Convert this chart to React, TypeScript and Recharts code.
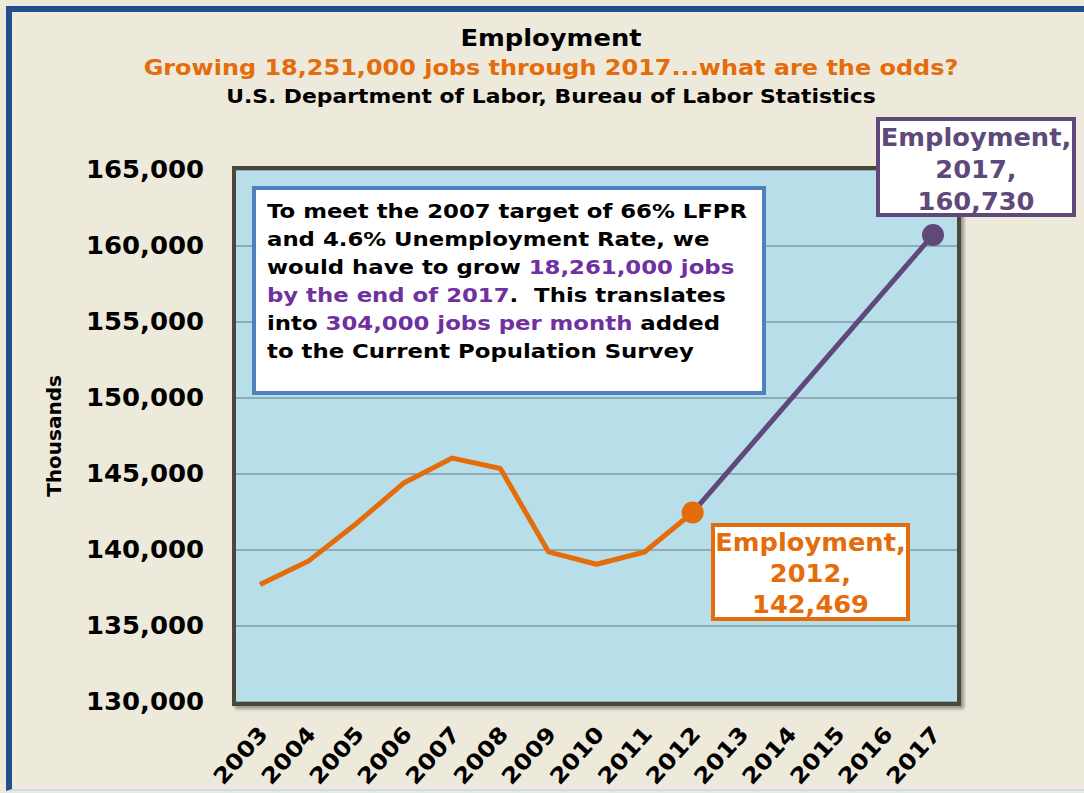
import { LineChart, Line, XAxis, YAxis, CartesianGrid } from 'recharts';

const years = ['2003', '2004', '2005', '2006', '2007', '2008', '2009', '2010', '2011', '2012', '2013', '2014', '2015', '2016', '2017'];
// Thousands, CPS employment (actual through 2012)
const actual = [137736, 139252, 141730, 144427, 146047, 145362, 139877, 139064, 139869, 142469, null, null, null, null, null];
// target path: 2012 level straight to 2017 goal
const target = [null, null, null, null, null, null, null, null, null, 142469, null, null, null, null, 160730];
const yTicks = [130000, 135000, 140000, 145000, 150000, 155000, 160000, 165000];

const W = 1084;
const H = 793;
const PLOT = { left: 236, top: 170, right: 957, bottom: 702 };
const Y_AXIS_W = 100;
const X_AXIS_H = 60;

const FONT = '"DejaVu Sans", Verdana, sans-serif';
const ORANGE = '#E46C0A';
const PURPLE = '#5F497A';
const TEXT_PURPLE = '#7030A0';
const BG = '#EDE9DB';

const data = years.map((year, i) => ({ year, actual: actual[i], target: target[i] }));

function XTick({ x, y, payload }: any) {
  return (
    <text
      x={0}
      y={0}
      transform={`translate(${x + 9},${y + 25}) rotate(-48) scale(1.12,1)`}
      textAnchor="end"
      fontFamily={FONT}
      fontWeight="bold"
      fontSize={22}
      fill="#000"
    >
      {payload.value}
    </text>
  );
}

function YTick({ x, y, payload }: any) {
  return (
    <text
      x={0}
      y={0}
      transform={`translate(${x - 24},${y + 8}) scale(1.08,1)`}
      textAnchor="end"
      fontFamily={FONT}
      fontWeight="bold"
      fontSize={24}
      fill="#000"
    >
      {payload.value.toLocaleString('en-US')}
    </text>
  );
}

function EndDot(color: string, idx: number) {
  return (props: any) => {
    const { cx, cy, index } = props;
    if (index !== idx || cy == null) return <g key={`d-${index}`} />;
    return <circle key={`d-${index}`} cx={cx} cy={cy} r={11} fill={color} />;
  };
}

const labelBox = (color: string): React.CSSProperties => ({
  position: 'absolute',
  background: '#fff',
  border: `4px solid ${color}`,
  color,
  fontFamily: FONT,
  fontWeight: 'bold',
  fontSize: 24,
  lineHeight: '31px',
  textAlign: 'center',
  boxSizing: 'border-box',
  paddingTop: 1,
});

const stretch = (sx: number, origin = 'center'): React.CSSProperties => ({
  transform: `scaleX(${sx})`,
  transformOrigin: origin,
});

export default function App() {
  return (
    <div style={{ position: 'relative', width: W, height: H, background: BG, overflow: 'hidden' }}>
      <style>{`body{margin:0}`}</style>
      <div style={{ position: 'absolute', left: 6, top: 6, right: -10, bottom: 2, borderLeft: '6px solid #234E8E', borderTop: '6px solid #234E8E', borderBottom: '2px solid #C9DDF0' }} />
      <div style={{ position: 'absolute', top: 22, left: 0, width: 1102, textAlign: 'center', fontFamily: FONT, fontWeight: 'bold' }}>
        <div style={{ fontSize: 23, lineHeight: '32px', color: '#000', ...stretch(1.12) }}>Employment</div>
        <div style={{ fontSize: 21, lineHeight: '29px', color: ORANGE, ...stretch(1.14) }}>
          Growing 18,251,000 jobs through 2017...what are the odds?
        </div>
        <div style={{ fontSize: 19, lineHeight: '26px', color: '#000', ...stretch(1.15) }}>
          U.S. Department of Labor, Bureau of Labor Statistics
        </div>
      </div>

      <div style={{ position: 'absolute', left: 0, top: 0 }}>
        <LineChart
          width={W}
          height={H}
          data={data}
          margin={{
            top: PLOT.top,
            left: PLOT.left - Y_AXIS_W,
            right: W - PLOT.right,
            bottom: H - PLOT.bottom - X_AXIS_H,
          }}
        >
          <CartesianGrid vertical={false} stroke="#5F7C88" strokeWidth={1.2} fill="#B7DEE9" fillOpacity={1} />
          <XAxis
            dataKey="year"
            interval={0}
            height={X_AXIS_H}
            padding={{ left: 24, right: 24 }}
            axisLine={false}
            tickLine={false}
            tick={<XTick />}
          />
          <YAxis
            width={Y_AXIS_W}
            domain={[130000, 165000]}
            ticks={yTicks}
            axisLine={false}
            tickLine={false}
            tick={<YTick />}
            label={{ value: 'Thousands', angle: -90, position: 'insideLeft', offset: -82, style: { fontFamily: FONT, fontWeight: 'bold', fontSize: 20, fill: '#000', textAnchor: 'middle' } }}
          />
          <Line
            dataKey="target"
            stroke={PURPLE}
            strokeWidth={5}
            connectNulls
            dot={EndDot(PURPLE, 14)}
            activeDot={false}
            isAnimationActive={false}
          />
          <Line
            dataKey="actual"
            stroke={ORANGE}
            strokeWidth={5}
            strokeLinejoin="round"
            dot={EndDot(ORANGE, 9)}
            activeDot={false}
            isAnimationActive={false}
          />
        </LineChart>
      </div>

      {/* plot area frame */}
      <div
        style={{
          position: 'absolute',
          left: PLOT.left - 4,
          top: PLOT.top - 4,
          width: PLOT.right - PLOT.left + 8,
          height: PLOT.bottom - PLOT.top + 8,
          border: '4px solid #4B4838',
          boxSizing: 'border-box',
          boxShadow: '3px 3px 3px rgba(0,0,0,0.35)',
          pointerEvents: 'none',
        }}
      />

      {/* note box */}
      <div
        style={{
          position: 'absolute',
          left: 252,
          top: 186,
          width: 514,
          height: 209,
          background: '#fff',
          border: '4px solid #4F81BD',
          boxSizing: 'border-box',
          padding: '7px 0 0 11px',
          fontFamily: FONT,
          fontWeight: 'bold',
          fontSize: 19,
          lineHeight: '28px',
          color: '#000',
          whiteSpace: 'nowrap',
        }}
      >
        <div style={stretch(1.2, 'left')}>
          <div>To meet the 2007 target of 66% LFPR</div>
          <div>and 4.6% Unemployment Rate, we</div>
          <div>
            would have to grow <span style={{ color: TEXT_PURPLE }}>18,261,000 jobs</span>
          </div>
          <div>
            <span style={{ color: TEXT_PURPLE }}>by the end of 2017</span>.&nbsp; This translates
          </div>
          <div>
            into <span style={{ color: TEXT_PURPLE }}>304,000 jobs per month</span> added
          </div>
          <div>to the Current Population Survey</div>
        </div>
      </div>

      <div style={{ ...labelBox(PURPLE), left: 876, top: 117, width: 200, height: 100, lineHeight: '32px' }}>
        <div style={stretch(1.07)}>
          Employment,
          <br />
          2017,
          <br />
          160,730
        </div>
      </div>
      <div style={{ ...labelBox(ORANGE), left: 711, top: 523, width: 199, height: 98 }}>
        <div style={stretch(1.07)}>
          Employment,
          <br />
          2012,
          <br />
          142,469
        </div>
      </div>
    </div>
  );
}
